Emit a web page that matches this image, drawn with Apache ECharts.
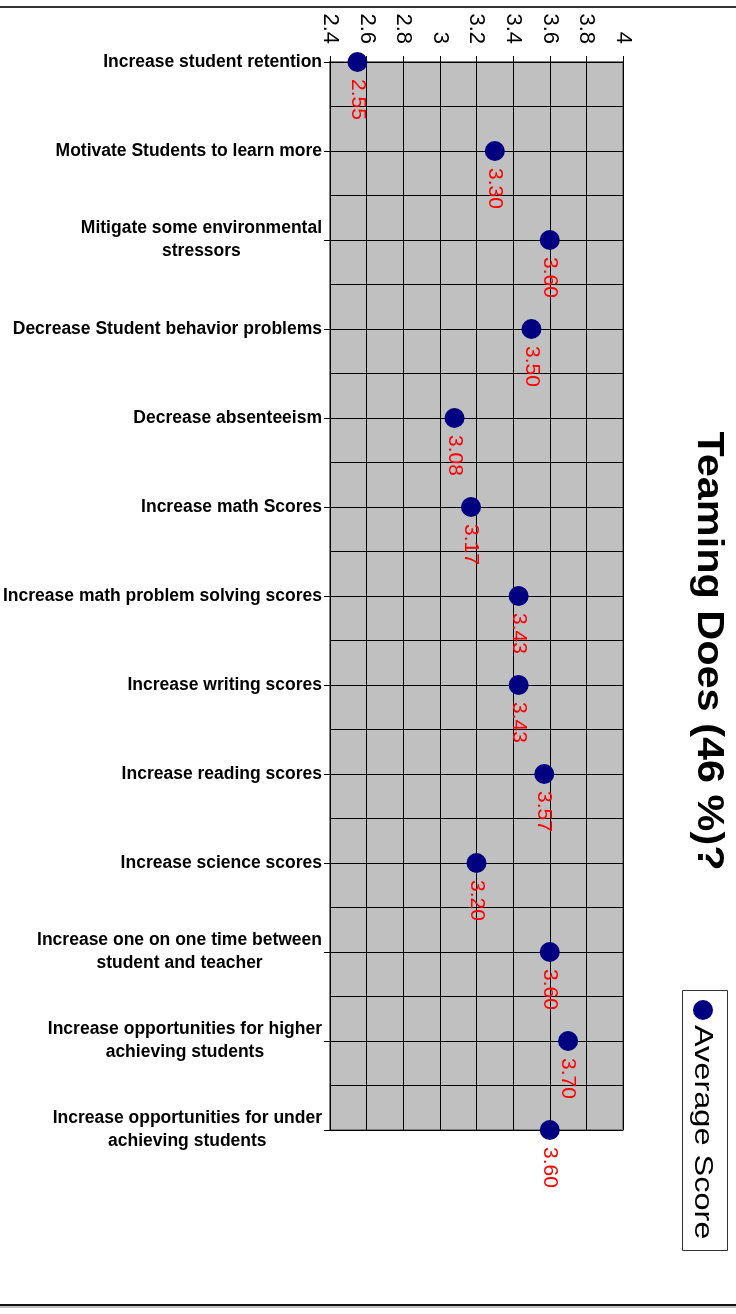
<!DOCTYPE html>
<html>
<head>
<meta charset="utf-8">
<script src="https://cdn.jsdelivr.net/npm/echarts@6/dist/echarts.min.js"></script>
<style>
  html, body { margin: 0; padding: 0; background: #fff; }
  #chart { width: 736px; height: 1314px; }
</style>
</head>
<body>
<div id="chart"></div>
<script>
// Survey items, listed top to bottom
const categories = [
  'Increase student retention',
  'Motivate Students to learn more',
  'Mitigate some environmental\nstressors',
  'Decrease Student behavior problems',
  'Decrease absenteeism',
  'Increase math Scores',
  'Increase math problem solving scores',
  'Increase writing scores',
  'Increase reading scores',
  'Increase science scores',
  'Increase one on one time between\nstudent and teacher',
  'Increase opportunities for higher\nachieving students',
  'Increase opportunities for under\nachieving students'
];

// Average score for each item
const averageScores = [2.55, 3.30, 3.60, 3.50, 3.08, 3.17, 3.43, 3.43, 3.57, 3.20, 3.60, 3.70, 3.60];

const seriesName = 'Average Score';
const chartTitle = 'Teaming Does (46 %)?';
const scoreMin = 2.4;
const scoreMax = 4;
const scoreStep = 0.2;

const FONT = '"Liberation Sans", Arial, Helvetica, sans-serif';
const markerColor = '#000080';

const chart = echarts.init(document.getElementById('chart'), null, { renderer: 'canvas' });

chart.setOption({
  animation: false,
  backgroundColor: '#ffffff',
  grid: {
    left: 328, right: 113, top: 62, bottom: 184,
    show: true,
    backgroundColor: '#c0c0c0',
    borderColor: '#808080',
    borderWidth: 2
  },
  xAxis: {
    type: 'value',
    position: 'top',
    min: scoreMin,
    max: scoreMax,
    interval: scoreStep,
    axisLine: { show: true, onZero: false, lineStyle: { color: '#000', width: 1 } },
    axisTick: { show: true, length: 6, lineStyle: { color: '#000' } },
    axisLabel: {
      rotate: 90,
      margin: 18,
      fontFamily: FONT,
      fontSize: 22,
      color: '#000'
    },
    splitLine: { show: true, lineStyle: { color: '#000', width: 1 } }
  },
  yAxis: [
    {
      type: 'category',
      data: categories,
      inverse: true,
      boundaryGap: false,
      axisLine: { show: true, onZero: false, lineStyle: { color: '#000', width: 1 } },
      axisTick: { show: true, length: 6, lineStyle: { color: '#000' } },
      axisLabel: {
        interval: 0,
        margin: 8,
        formatter: function (v) {
          return v.split('\n').map(function (s) { return '{c|' + s + '}'; }).join('\n');
        },
        rich: {
          c: {
            align: 'center',
            fontFamily: FONT,
            fontSize: 17.5,
            fontWeight: 'bold',
            color: '#000',
            lineHeight: 23
          }
        }
      },
      splitLine: { show: false }
    },
    {
      // finer horizontal rules halfway between items
      type: 'value',
      min: 0,
      max: categories.length - 1,
      interval: 0.5,
      inverse: true,
      position: 'left',
      axisLine: { show: false },
      axisTick: { show: false },
      axisLabel: { show: false },
      splitLine: { show: true, lineStyle: { color: '#000', width: 1 } }
    }
  ],
  series: [
    {
      name: seriesName,
      type: 'scatter',
      yAxisIndex: 0,
      symbol: 'circle',
      symbolSize: 20,
      itemStyle: { color: markerColor, opacity: 1 },
      data: averageScores.map(function (v, i) { return [v, i]; }),
      label: {
        show: true,
        position: 'bottom',
        distance: 7,
        rotate: -90,
        align: 'left',
        verticalAlign: 'middle',
        fontFamily: FONT,
        fontSize: 21,
        color: '#ff0000',
        formatter: function (p) { return p.value[0].toFixed(2); }
      },
      z: 5
    }
  ],
  graphic: [
    // frame rules at top and bottom of the chart area
    { type: 'rect', shape: { x: 0, y: 6, width: 736, height: 2 }, style: { fill: '#333' }, silent: true },
    { type: 'rect', shape: { x: 0, y: 1304, width: 736, height: 2 }, style: { fill: '#111' }, silent: true },
    { type: 'rect', shape: { x: 0, y: 1306, width: 736, height: 2 }, style: { fill: '#c0c0c0' }, silent: true },
    // chart title, reading downward
    {
      type: 'text',
      x: 708, y: 651,
      rotation: -Math.PI / 2,
      scaleX: 1.12,
      style: {
        text: chartTitle,
        align: 'center',
        verticalAlign: 'middle',
        fontFamily: FONT,
        fontSize: 37,
        fontWeight: 'bold',
        fill: '#000'
      }
    },
    // legend box
    {
      type: 'group',
      children: [
        { type: 'rect', shape: { x: 682.5, y: 990.5, width: 45, height: 260 }, style: { fill: '#fff', stroke: '#333', lineWidth: 1 } },
        { type: 'circle', shape: { cx: 703, cy: 1010, r: 10 }, style: { fill: markerColor } },
        {
          type: 'text',
          x: 702, y: 1025,
          rotation: -Math.PI / 2,
          scaleX: 1.25,
          style: {
            text: seriesName,
            align: 'left',
            verticalAlign: 'middle',
            fontFamily: FONT,
            fontSize: 26,
            fill: '#000'
          }
        }
      ]
    }
  ]
});
</script>
</body>
</html>
